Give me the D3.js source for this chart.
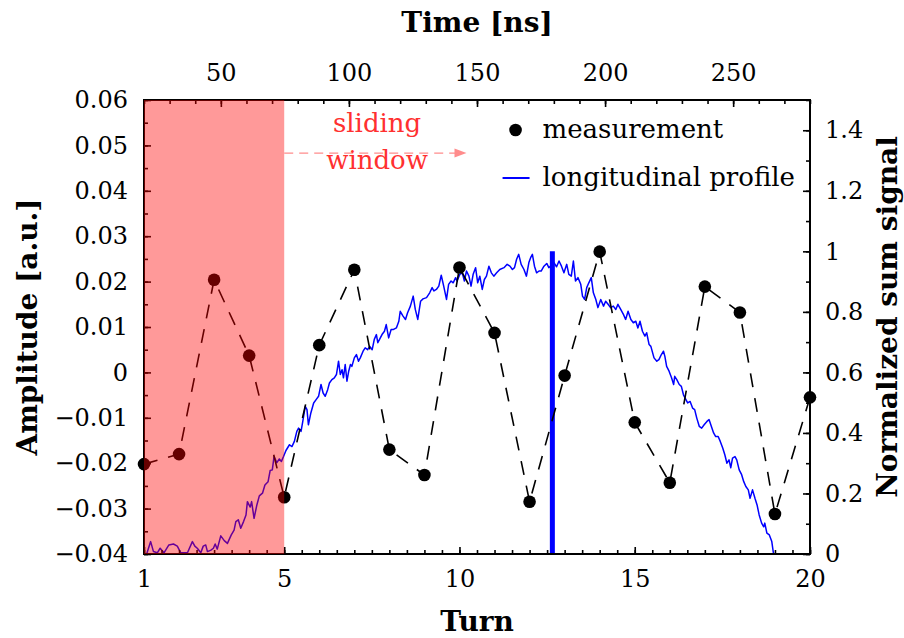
<!DOCTYPE html>
<html>
<head>
<meta charset="utf-8">
<script src="https://cdn.jsdelivr.net/npm/d3@7"></script>
<style>
  body { margin: 0; background: #fff; }
  svg { display: block; }
  text { font-family: "DejaVu Serif", "Liberation Serif", serif; }
</style>
</head>
<body>
<svg id="chart"></svg>
<script>
// Measured betatron amplitude per turn
const turns = [1, 2, 3, 4, 5, 6, 7, 8, 9, 10, 11, 12, 13, 14, 15, 16, 17, 18, 19, 20];
const amplitude = [-0.0202, -0.018, 0.0204, 0.0037, -0.0275, 0.006, 0.0226, -0.017, -0.0226, 0.0231,
  0.0087, -0.0285, -0.0007, 0.0266, -0.011, -0.0243, 0.0189, 0.0132, -0.0312, -0.0055];

// Longitudinal profile: [turn, normalized sum signal]
const profile = [
  [1.00, 0], [1.08, 0.002], [1.19, 0.041], [1.27, 0.008], [1.38, 0.004], [1.46, 0.019], [1.57, 0.004],
  [1.71, 0.030], [1.84, 0.033], [1.95, 0.026], [2.05, 0.004], [2.24, 0.004], [2.38, 0.041], [2.45, 0.026],
  [2.52, 0.019], [2.62, 0.004], [2.69, 0.026], [2.76, 0.030], [2.81, 0.008], [2.91, 0.013], [2.98, 0.019],
  [3.03, 0.033], [3.09, 0.016], [3.19, 0.060], [3.29, 0.044], [3.38, 0.035], [3.49, 0.063], [3.57, 0.079],
  [3.62, 0.107], [3.69, 0.113], [3.76, 0.085], [3.84, 0.107], [3.91, 0.129], [3.95, 0.173], [4.03, 0.155],
  [4.07, 0.173], [4.14, 0.118], [4.22, 0.162], [4.29, 0.192], [4.38, 0.201], [4.45, 0.228], [4.54, 0.239],
  [4.60, 0.276], [4.66, 0.278], [4.71, 0.322], [4.79, 0.302], [4.86, 0.314], [4.92, 0.306], [4.98, 0.322],
  [5.05, 0.342], [5.15, 0.361], [5.22, 0.355], [5.29, 0.372], [5.36, 0.405], [5.41, 0.416], [5.48, 0.405],
  [5.53, 0.438], [5.60, 0.488], [5.65, 0.477], [5.69, 0.427], [5.76, 0.466], [5.84, 0.499], [5.91, 0.510],
  [5.98, 0.521], [6.05, 0.560], [6.11, 0.532], [6.17, 0.521], [6.24, 0.543], [6.29, 0.565], [6.36, 0.576],
  [6.43, 0.582], [6.49, 0.593], [6.55, 0.637], [6.60, 0.593], [6.65, 0.609], [6.69, 0.582], [6.74, 0.626],
  [6.79, 0.571], [6.84, 0.604], [6.89, 0.626], [6.93, 0.620], [7.00, 0.648], [7.06, 0.659], [7.12, 0.637],
  [7.17, 0.648], [7.25, 0.670], [7.31, 0.681], [7.38, 0.675], [7.44, 0.686], [7.51, 0.675], [7.57, 0.709],
  [7.63, 0.725], [7.67, 0.698], [7.72, 0.709], [7.79, 0.725], [7.86, 0.736], [7.91, 0.758], [7.98, 0.714],
  [8.05, 0.742], [8.12, 0.742], [8.20, 0.747], [8.27, 0.769], [8.31, 0.802], [8.39, 0.786], [8.46, 0.775],
  [8.52, 0.797], [8.60, 0.819], [8.68, 0.852], [8.74, 0.808], [8.81, 0.775], [8.89, 0.835], [8.96, 0.843],
  [9.06, 0.847], [9.15, 0.863], [9.22, 0.880], [9.27, 0.869], [9.34, 0.874], [9.41, 0.885], [9.48, 0.921],
  [9.55, 0.885], [9.63, 0.841], [9.69, 0.891], [9.76, 0.902], [9.82, 0.896], [9.89, 0.913], [9.93, 0.902],
  [10.01, 0.924], [10.08, 0.929], [10.14, 0.902], [10.20, 0.935], [10.27, 0.918], [10.33, 0.885],
  [10.39, 0.924], [10.46, 0.946], [10.52, 0.896], [10.58, 0.918], [10.65, 0.874], [10.71, 0.907],
  [10.77, 0.918], [10.84, 0.951], [10.91, 0.929], [10.98, 0.918], [11.06, 0.929], [11.15, 0.940],
  [11.27, 0.946], [11.36, 0.957], [11.44, 0.951], [11.51, 0.940], [11.57, 0.946], [11.63, 0.974],
  [11.69, 0.990], [11.76, 0.957], [11.84, 0.940], [11.91, 0.918], [11.98, 0.963], [12.03, 0.979],
  [12.08, 0.990], [12.14, 0.951], [12.20, 0.929], [12.27, 0.935], [12.33, 0.935], [12.41, 0.951],
  [12.49, 0.960], [12.55, 0.946], [12.60, 0.951], [12.69, 0.963], [12.77, 0.949], [12.84, 0.968],
  [12.91, 0.951], [12.98, 0.929], [13.06, 0.957], [13.12, 0.924], [13.19, 0.918], [13.25, 0.968],
  [13.31, 0.902], [13.38, 0.913], [13.46, 0.891], [13.51, 0.852], [13.57, 0.841], [13.63, 0.880],
  [13.69, 0.896], [13.76, 0.913], [13.82, 0.863], [13.89, 0.841], [13.95, 0.814], [14.03, 0.841],
  [14.11, 0.819], [14.17, 0.835], [14.24, 0.825], [14.31, 0.814], [14.39, 0.819], [14.46, 0.808],
  [14.52, 0.825], [14.60, 0.808], [14.68, 0.791], [14.74, 0.775], [14.81, 0.802], [14.89, 0.775],
  [14.96, 0.764], [15.03, 0.769], [15.09, 0.747], [15.15, 0.769], [15.22, 0.736], [15.29, 0.720],
  [15.34, 0.731], [15.41, 0.692], [15.46, 0.686], [15.55, 0.648], [15.63, 0.637], [15.69, 0.642],
  [15.76, 0.659], [15.82, 0.670], [15.86, 0.653], [15.91, 0.620], [15.98, 0.604], [16.05, 0.582],
  [16.11, 0.560], [16.14, 0.587], [16.20, 0.576], [16.27, 0.560], [16.33, 0.554], [16.39, 0.526],
  [16.46, 0.510], [16.51, 0.499], [16.58, 0.504], [16.65, 0.482], [16.71, 0.477], [16.77, 0.449],
  [16.84, 0.422], [16.91, 0.416], [16.98, 0.427], [17.06, 0.438], [17.12, 0.444], [17.17, 0.427],
  [17.25, 0.400], [17.31, 0.388], [17.38, 0.388], [17.44, 0.372], [17.51, 0.350], [17.57, 0.328],
  [17.63, 0.300], [17.69, 0.311], [17.74, 0.285], [17.79, 0.317], [17.86, 0.322], [17.91, 0.311],
  [17.98, 0.278], [18.05, 0.262], [18.11, 0.239], [18.17, 0.223], [18.24, 0.212], [18.29, 0.184],
  [18.36, 0.212], [18.43, 0.184], [18.49, 0.162], [18.55, 0.129], [18.62, 0.102], [18.68, 0.090],
  [18.71, 0.102], [18.77, 0.069], [18.84, 0.063], [18.91, 0.041], [18.96, 0.0]
];

// Bunch centre marker and sliding window extent (turns)
const bunchCentre = 12.65;
const bunchPeak = 1.0;
const windowTurns = [1, 5];

// Ticks
const turnTicks = [1, 5, 10, 15, 20];
const timeTicks = [50, 100, 150, 200, 250];
const ampTicks = [-0.04, -0.03, -0.02, -0.01, 0, 0.01, 0.02, 0.03, 0.04, 0.05, 0.06];
const sumTicks = [0, 0.2, 0.4, 0.6, 0.8, 1, 1.2, 1.4];

const width = 904, height = 638;
const margin = { top: 100, right: 94, bottom: 84, left: 144 };
const innerWidth = width - margin.left - margin.right;
const innerHeight = height - margin.top - margin.bottom;

const svg = d3.select("#chart").attr("width", width).attr("height", height);
const g = svg.append("g").attr("transform", `translate(${margin.left},${margin.top})`);

// Scales
const x = d3.scaleLinear().domain([1, 20]).range([0, innerWidth]);
const xTime = d3.scaleLinear().domain([20, 280]).range([0, innerWidth]);
const yAmp = d3.scaleLinear().domain([-0.04, 0.06]).range([innerHeight, 0]);
const ySum = d3.scaleLinear().domain([0, 1.5]).range([innerHeight, 0]);

const fmtAmp = d => d === 0 ? "0" : d3.format(".2f")(d);
const fmtSum = d => d === 0 ? "0" : d3.format("~g")(d);

// Profile
g.append("path")
  .datum(profile)
  .attr("fill", "none")
  .attr("stroke", "#0000ff")
  .attr("stroke-width", 1.5)
  .attr("stroke-linejoin", "round")
  .attr("d", d3.line().x(d => x(d[0])).y(d => ySum(d[1])));

// Bunch centre line
g.append("line")
  .attr("x1", x(bunchCentre)).attr("x2", x(bunchCentre))
  .attr("y1", ySum(0)).attr("y2", ySum(bunchPeak))
  .attr("stroke", "#0000ff")
  .attr("stroke-width", 5);

// Measurement
const meas = turns.map((t, i) => [t, amplitude[i]]);
g.append("path")
  .datum(meas)
  .attr("fill", "none")
  .attr("stroke", "#000")
  .attr("stroke-width", 1.6)
  .attr("stroke-dasharray", "14 11")
  .attr("d", d3.line().x(d => x(d[0])).y(d => yAmp(d[1])));

g.selectAll("circle.meas")
  .data(meas)
  .join("circle")
  .attr("class", "meas")
  .attr("cx", d => x(d[0]))
  .attr("cy", d => yAmp(d[1]))
  .attr("r", 6.3)
  .attr("fill", "#000");

// Axes (ticks point inward); minor ticks carry no labels
function styleAxis(sel) {
  sel.attr("font-size", 24).attr("font-family", '"DejaVu Serif", serif');
  sel.select(".domain").remove();
  sel.selectAll(".tick line").attr("stroke", "#000").attr("stroke-width", 1.6);
  sel.selectAll(".tick text").filter(function () { return !this.textContent; }).remove();
  sel.selectAll(".tick text").attr("fill", "#000");
}

g.append("g").attr("transform", `translate(0,${innerHeight})`)
  .call(d3.axisBottom(x).tickValues(d3.range(1, 20.01, 0.5)).tickSize(-4).tickFormat(""))
  .call(styleAxis);
g.append("g").attr("transform", `translate(0,${innerHeight})`)
  .call(d3.axisBottom(x).tickValues(turnTicks).tickSize(-7).tickPadding(16))
  .call(styleAxis);

g.append("g")
  .call(d3.axisTop(xTime).tickValues(d3.range(20, 281, 10)).tickSize(-4).tickFormat(""))
  .call(styleAxis);
g.append("g")
  .call(d3.axisTop(xTime).tickValues(timeTicks).tickSize(-7).tickPadding(19))
  .call(styleAxis);

g.append("g")
  .call(d3.axisLeft(yAmp).tickValues(d3.range(-0.04, 0.0601, 0.005)).tickSize(-4).tickFormat(""))
  .call(styleAxis);
g.append("g")
  .call(d3.axisLeft(yAmp).tickValues(ampTicks).tickSize(-7).tickPadding(16).tickFormat(fmtAmp))
  .call(styleAxis);

g.append("g").attr("transform", `translate(${innerWidth},0)`)
  .call(d3.axisRight(ySum).tickValues(d3.range(0, 1.501, 0.1)).tickSize(-4).tickFormat(""))
  .call(styleAxis);
g.append("g").attr("transform", `translate(${innerWidth},0)`)
  .call(d3.axisRight(ySum).tickValues(sumTicks).tickSize(-7).tickPadding(15).tickFormat(fmtSum))
  .call(styleAxis);

// Frame
g.append("rect")
  .attr("width", innerWidth).attr("height", innerHeight)
  .attr("fill", "none").attr("stroke", "#000").attr("stroke-width", 2);

// Sliding window (drawn over the data)
g.append("rect")
  .attr("x", x(windowTurns[0])).attr("y", 0)
  .attr("width", x(windowTurns[1]) - x(windowTurns[0]))
  .attr("height", innerHeight)
  .attr("fill", "#ff0000").attr("fill-opacity", 0.4);

// Sliding window annotation
const arrowY = yAmp(0.0483);
const arrowEnd = x(10.2);
g.append("line")
  .attr("x1", x(windowTurns[1])).attr("x2", arrowEnd - 8)
  .attr("y1", arrowY).attr("y2", arrowY)
  .attr("stroke", "#ff8c8c").attr("stroke-width", 1.4)
  .attr("stroke-dasharray", "9 6");
g.append("path")
  .attr("d", `M${arrowEnd},${arrowY} L${arrowEnd - 12},${arrowY - 4.5} L${arrowEnd - 12},${arrowY + 4.5} Z`)
  .attr("fill", "#ff8c8c");

const annoX = x(7.65);
g.append("text").attr("x", annoX).attr("y", yAmp(0.0529))
  .attr("text-anchor", "middle").attr("fill", "#ff3030").attr("font-size", 26).text("sliding");
g.append("text").attr("x", annoX).attr("y", yAmp(0.0447))
  .attr("text-anchor", "middle").attr("fill", "#ff3030").attr("font-size", 26).text("window");

// Legend
const legend = g.append("g").attr("transform", `translate(${x(11.6)},0)`);
legend.append("circle").attr("cx", 0).attr("cy", 30).attr("r", 6.3).attr("fill", "#000");
legend.append("text").attr("x", 27).attr("y", 38).attr("font-size", 26).text("measurement");
legend.append("line").attr("x1", -13).attr("x2", 14).attr("y1", 78).attr("y2", 78)
  .attr("stroke", "#0000ff").attr("stroke-width", 2);
legend.append("text").attr("x", 27).attr("y", 86).attr("font-size", 26).text("longitudinal profile");

// Axis titles
const titleStyle = s => s.attr("text-anchor", "middle").attr("font-weight", "bold").attr("font-size", 28);
svg.append("text").attr("x", margin.left + innerWidth / 2).attr("y", 32).call(titleStyle).text("Time [ns]");
svg.append("text").attr("x", margin.left + innerWidth / 2).attr("y", 631).call(titleStyle).text("Turn");
svg.append("text")
  .attr("transform", `translate(37,${margin.top + innerHeight / 2}) rotate(-90)`)
  .call(titleStyle).text("Amplitude [a.u.]");
svg.append("text")
  .attr("transform", `translate(897,${margin.top + innerHeight / 2 - 10}) rotate(-90)`)
  .call(titleStyle).text("Normalized sum signal");
</script>
</body>
</html>
